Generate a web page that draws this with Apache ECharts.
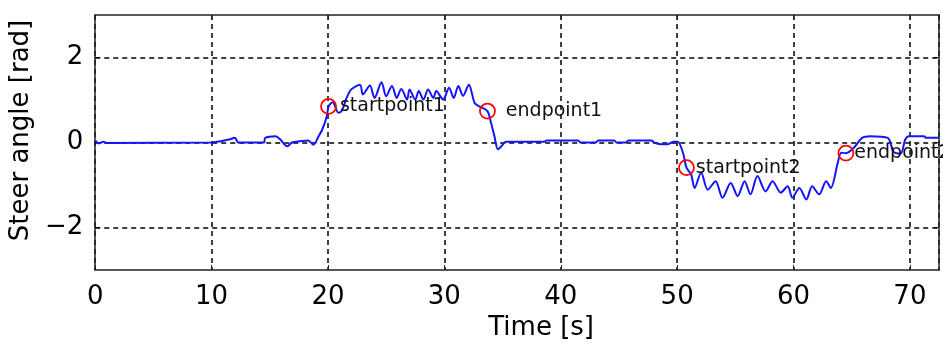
<!DOCTYPE html>
<html>
<head>
<meta charset="utf-8">
<script src="https://cdn.jsdelivr.net/npm/echarts@6/dist/echarts.min.js"></script>
<style>html,body{margin:0;padding:0;background:#fff}#c{width:943px;height:350px}</style>
</head>
<body>
<div id="c"></div>
<script>
// Time [s]
const timeS = [0,0.3,0.7,1.0,10.0,11.5,12.0,12.3,14.5,14.6,15.5,15.9,16.5,16.9,17.6,18.3,18.75,19.2,19.5,19.9,
  20.05,20.4,20.9,21.2,21.6,22.0,22.75,23.0,23.6,24.0,24.6,25.0,25.5,25.9,26.3,26.8,27.0,27.5,27.8,28.2,
  28.6,29.05,29.3,29.9,30.4,30.8,31.2,31.6,32.1,32.6,33.0,33.7,34.0,34.3,34.6,34.9,35.3,38.6,38.8,41.5,
  41.7,43.0,43.2,44.6,44.8,45.6,45.8,47.8,48.0,48.6,49.2,49.7,50.05,50.5,50.8,51.2,51.5,52.06,52.63,53.3,
  53.9,54.6,55.2,55.8,56.3,56.9,57.6,58.2,58.9,59.5,59.9,60.5,61.1,61.6,62.2,62.8,63.2,63.8,64.1,64.5,
  65.2,65.9,66.6,68.1,68.6,69.2,69.6,69.9,71.2,71.4,72.5];
// Steer angle [rad]
const steerRad = [0.05,-0.02,0.02,-0.01,0.0,0.07,0.11,0.0,0.0,0.11,0.15,0.07,-0.09,0.0,0.03,0.05,-0.05,0.15,0.3,0.62,
  0.85,0.95,0.7,0.75,1.05,1.25,1.36,1.13,1.34,1.05,1.42,1.09,1.33,1.05,1.26,1.01,1.25,1.01,1.21,1.01,
  1.25,1.05,1.21,1.01,1.29,1.05,1.33,1.1,1.36,0.93,0.85,0.74,0.47,0.15,-0.16,-0.09,0.02,0.02,0.05,0.05,
  0.0,0.0,0.05,0.05,0.0,0.0,0.05,0.05,0.0,-0.04,-0.04,0.02,0.02,-0.24,-0.59,-0.75,-1.07,-0.71,-1.11,-0.91,
  -1.30,-0.95,-1.26,-0.91,-1.22,-0.79,-1.15,-0.91,-1.18,-1.03,-1.30,-1.07,-1.34,-1.03,-1.22,-0.91,-1.07,-0.48,-0.24,-0.25,
  -0.12,0.11,0.15,0.11,-0.22,-0.26,0.07,0.15,0.15,0.11,0.11];
// Marked points
const pointNames = ['startpoint1','endpoint1','startpoint2','endpoint2'];
const pointTime = [20.05, 33.7, 50.8, 64.5];
const pointValue = [0.85, 0.74, -0.59, -0.25];
// Tick labels
const xTicks = [0,10,20,30,40,50,60,70];
const yTicks = [-2,0,2];

// label gap (style only)
const labelGap = [3, 10, 1, 0];

const line = timeS.map((t,i)=>[t, steerRad[i]]);
const pts = pointNames.map((n,i)=>({name:n, value:[pointTime[i], pointValue[i]], label:{distance:labelGap[i]}}));
const yGrid = yTicks.map(v=>({yAxis:v}));

const FONT = 'DejaVu Sans';
const TXT = '#000';
const GRID = {color:'#000', type:[5,4], width:1.5};
const chart = echarts.init(document.getElementById('c'));
chart.setOption({
  animation:false,
  backgroundColor:'#fff',
  grid:{left:93, right:4, top:15, bottom:80},
  xAxis:[{
    type:'value', min:0, max:72.5, interval:10,
    name:'Time [s]', nameLocation:'middle', nameGap:45,
    nameTextStyle:{fontFamily:FONT, fontSize:26, color:TXT, padding:[0,0,0,48]},
    axisLine:{show:true, onZero:false, lineStyle:{color:'#222', width:1.5}},
    axisTick:{show:true, inside:true, length:5, lineStyle:{color:'#222'}},
    axisLabel:{fontFamily:FONT, fontSize:26, color:TXT, margin:14,
      formatter:v=> xTicks.includes(v) ? String(v) : '', showMaxLabel:false},
    splitLine:{show:true, lineStyle:GRID}
  },{
    type:'value', min:0, max:72.5, interval:10, position:'top',
    axisLine:{show:true, onZero:false, lineStyle:{color:'#222', width:1.5}},
    axisTick:{show:true, inside:true, length:5, lineStyle:{color:'#222'}},
    axisLabel:{show:false}, splitLine:{show:false}
  }],
  yAxis:[{
    type:'value', min:-3, max:3, interval:1,
    name:'Steer angle [rad]', nameLocation:'middle', nameGap:52, nameRotate:90,
    nameTextStyle:{fontFamily:FONT, fontSize:26, color:TXT, padding:[0,0,0,24]},
    axisLine:{show:true, onZero:false, lineStyle:{color:'#222', width:1.5}},
    axisTick:{show:true, inside:true, length:5, lineStyle:{color:'#222'}, customValues:yTicks},
    axisLabel:{fontFamily:FONT, fontSize:26, color:TXT, margin:12, customValues:yTicks,
      formatter:v=> yTicks.includes(v) ? (v<0 ? '\u2212'+Math.abs(v) : String(v)) : ''},
    splitLine:{show:false}
  },{
    type:'value', min:-3, max:3, interval:1, position:'right',
    axisLine:{show:true, onZero:false, lineStyle:{color:'#222', width:1.5}},
    axisTick:{show:true, inside:true, length:5, lineStyle:{color:'#222'}, customValues:yTicks},
    axisLabel:{show:false}, splitLine:{show:false}
  }],
  series:[{
    type:'line', data:line, showSymbol:false, symbol:'none',
    smooth:0.3,
    lineStyle:{color:'#1414ff', width:2}, z:3,
    markLine:{silent:true, symbol:'none', label:{show:false},
      lineStyle:GRID, data:yGrid, z:1}
  },{
    type:'scatter', data:pts, symbol:'circle', symbolSize:15,
    itemStyle:{color:'rgba(0,0,0,0)', borderColor:'#ff0000', borderWidth:1.8, opacity:1},
    label:{show:true, position:'right', formatter:p=>p.name,
      fontFamily:FONT, fontSize:19, color:'#111'},
    z:4
  }]
});
</script>
</body>
</html>
